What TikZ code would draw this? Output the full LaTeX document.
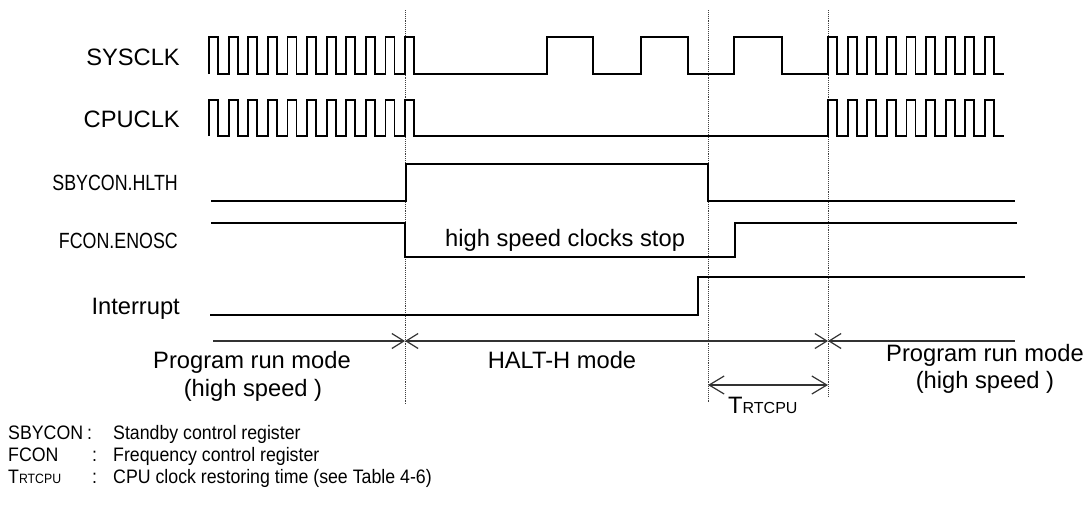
\documentclass[tikz,border=0pt]{standalone}
\usepackage{fontspec}
\setmainfont{Liberation Sans}
\newfontfamily\narrowsans[FakeStretch=0.81]{Liberation Sans}
\newfontfamily\notesans[FakeStretch=0.91]{Liberation Sans}
\usepackage{tikz}
\usetikzlibrary{arrows.meta, positioning}
\newcommand{\trt}[2]{\fontsize{#1}{#1}\selectfont T{\fontsize{#2}{#2}\selectfont RTCPU}}

\begin{document}
\begin{tikzpicture}[x=1pt, y=-1pt,
    sig/.style={line width=1.8pt, line join=miter},
    guide/.style={densely dotted, line width=0.9pt, black!75},
    span/.style={line width=1.2pt, black!80},
    lbl/.style={font=\fontsize{23.7}{28}\selectfont, inner sep=0pt},
    nlbl/.style={font=\narrowsans\fontsize{22}{26}\selectfont, inner sep=0pt},
    note/.style={font=\notesans\fontsize{19.5}{22}\selectfont, inner sep=0pt}]
    \useasboundingbox (0,0) rectangle (1088,504);
    % signal names
    \node[lbl, anchor=base east] (sysclk) at (180,65) {SYSCLK};
    \node[lbl, anchor=base east] (cpuclk) at (180,127) {CPUCLK};
    \node[nlbl, anchor=base east] (hlth) at (178,190) {SBYCON.HLTH};
    \node[nlbl, anchor=base east] (enosc) at (178,248) {FCON.ENOSC};
    \node[lbl, anchor=base east] (intr) at (180,314) {Interrupt};
    % guides
    \draw[guide] (405,10) -- (405,405);
    \draw[guide] (708,10) -- (708,402);
    \draw[guide] (828,10) -- (828,397);
    % waveforms
    \draw[sig] (209,74) \foreach \k in {0,...,10} {-- ++(0,-37) -- ++(9,0) -- ++(0,37) -- ++(10.6,0)}
      -- (547,74) -- (547,37) -- (593,37) -- (593,74) -- (641,74) -- (641,37) -- (688,37) -- (688,74)
      -- (734,74) -- (734,37) -- (782,37) -- (782,74) -- (828,74)
      \foreach \k in {0,...,8} {-- ++(0,-37) -- ++(9,0) -- ++(0,37) -- ++(10.6,0)};
    \draw[sig] (209,136) \foreach \k in {0,...,10} {-- ++(0,-36) -- ++(9,0) -- ++(0,36) -- ++(10.6,0)}
      -- (828,136)
      \foreach \k in {0,...,8} {-- ++(0,-36) -- ++(9,0) -- ++(0,36) -- ++(10.6,0)};
    \draw[sig] (211,201) -- (406,201) -- (406,164) -- (708,164) -- (708,201) -- (1015,201);
    \draw[sig] (211,223) -- (405,223) -- (405,257) -- (735,257) -- (735,223) -- (1017,223);
    \draw[sig] (210,315) -- (698,315) -- (698,277) -- (1025,277);
    \node[lbl, anchor=base west] (stop) at (445,246) {high speed clocks stop};
    % modes
    \coordinate (m0) at (213,341);
    \coordinate (m1) at (405,341);
    \coordinate (m2) at (828,341);
    \coordinate (m3) at (1015,341);
    \draw[span, -{Straight Barb[length=12pt,width=15pt]}] (m0) -- (m1);
    \draw[span, {Straight Barb[length=12pt,width=15pt]}-{Straight Barb[length=12pt,width=15pt]}] (m1) -- (m2);
    \draw[span, {Straight Barb[length=12pt,width=15pt]}-] (m2) -- (m3);
    \node[lbl, anchor=base] (run1) at (252,368) {Program run mode};
    \node[lbl, anchor=base] (hs1) at (253,396) {(high speed )};
    \node[lbl, anchor=base] (halt) at (562,368) {HALT-H mode};
    \node[lbl, anchor=base] (run2) at (985,361) {Program run mode};
    \node[lbl, anchor=base] (hs2) at (985,388) {(high speed )};
    % restoring time
    \coordinate (r0) at (708,385);
    \coordinate (r1) at (828,385);
    \draw[span, {Straight Barb[length=15pt,width=18pt]}-{Straight Barb[length=15pt,width=18pt]}] (r0) -- (r1);
    \node[inner sep=0pt, anchor=base west] (trt) at (728,413) {\trt{23.7}{16}};
    % legend
    \node[note, anchor=base west] (k1) at (8,439) {SBYCON};
    \node[note, anchor=base west] (k2) at (8,461) {FCON};
    \node[note, anchor=base west] (k3) at (8,483) {\notesans\trt{19.5}{13.5}};
    \node[note, anchor=base west] (c1) at (87,439) {:};
    \node[note, anchor=base west] (c2) at (92,461) {:};
    \node[note, anchor=base west] (c3) at (92,483) {:};
    \node[note, anchor=base west] (d1) at (113,439) {Standby control register};
    \node[note, anchor=base west] (d2) at (113,461) {Frequency control register};
    \node[note, anchor=base west] (d3) at (113,483) {CPU clock restoring time (see Table 4-6)};
\end{tikzpicture}
\end{document}
